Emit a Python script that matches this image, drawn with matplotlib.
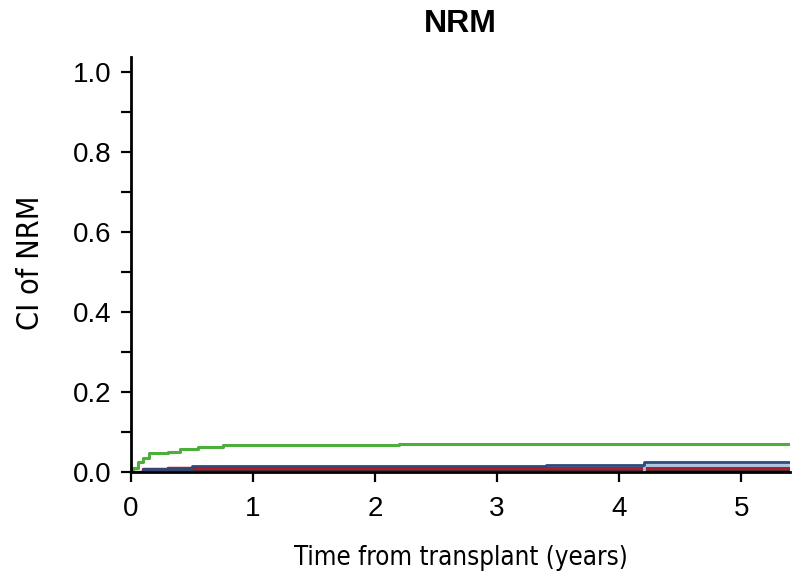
import matplotlib
matplotlib.use("Agg")
import matplotlib.pyplot as plt
from matplotlib.ticker import MultipleLocator

# step data (years, cumulative incidence)
green_t = [0.0, 0.02, 0.06, 0.1, 0.15, 0.3, 0.4, 0.55, 0.75, 2.2, 5.4]
green_y = [0.0, 0.01, 0.025, 0.035, 0.047, 0.05, 0.056, 0.062, 0.066, 0.07, 0.07]

navy_t = [0.0, 0.1, 0.5, 3.4, 4.2, 5.4]
navy_y = [0.0, 0.008, 0.015, 0.018, 0.025, 0.025]

light_t = [0.0, 4.2, 5.4]
light_y = [0.0, 0.016, 0.016]

red_t = [0.0, 0.1, 0.3, 5.4]
red_y = [0.0, 0.006, 0.009, 0.009]

black_t = [0.0, 0.3, 5.4]
black_y = [0.0, 0.003, 0.003]

xticks = [0, 1, 2, 3, 4, 5]
yticks = [0.0, 0.2, 0.4, 0.6, 0.8, 1.0]

plt.rcParams['font.family'] = ['Liberation Sans', 'DejaVu Sans']

fig = plt.figure(figsize=(7.94, 5.84), dpi=100)
ax = fig.add_axes([0.165, 0.192, 0.83, 0.711])

ax.step(black_t, black_y, where='post', color='#1a1a1a', lw=2)
ax.step(red_t, red_y, where='post', color='#b01c2e', lw=2.5)
ax.step(light_t, light_y, where='post', color='#a8c4e0', lw=2)
ax.step(navy_t, navy_y, where='post', color='#2c4a7c', lw=2)
ax.step(green_t, green_y, where='post', color='#4caf3c', lw=2.2)

ax.set_xlim(0, 5.4)
ax.set_ylim(0, 1.0375)
ax.set_xticks(xticks)
ax.set_yticks(yticks)
ax.set_yticklabels(['%.1f' % v for v in yticks])
ax.yaxis.set_minor_locator(MultipleLocator(0.1))

for s in ['top', 'right']:
    ax.spines[s].set_visible(False)
for s in ['left', 'bottom']:
    ax.spines[s].set_linewidth(2)

ax.tick_params(axis='both', which='both', direction='out', width=1.6,
               length=7.2, labelsize=20)
ax.tick_params(axis='x', pad=10.5)
ax.tick_params(axis='y', pad=7)

ax.set_xlabel('Time from transplant (years)', fontsize=18.5, family='DejaVu Sans',
              fontstretch='condensed', va='center')
ax.xaxis.set_label_coords(0.5, -0.207)
ax.set_ylabel('CI of NRM', fontsize=22, family='DejaVu Sans',
              fontstretch='condensed', va='center', ha='center')
ax.yaxis.set_label_coords(-0.152, 0.504)
ax.set_title('NRM', fontsize=23, fontweight='bold', pad=18)

fig.savefig('out.png', dpi=100)
